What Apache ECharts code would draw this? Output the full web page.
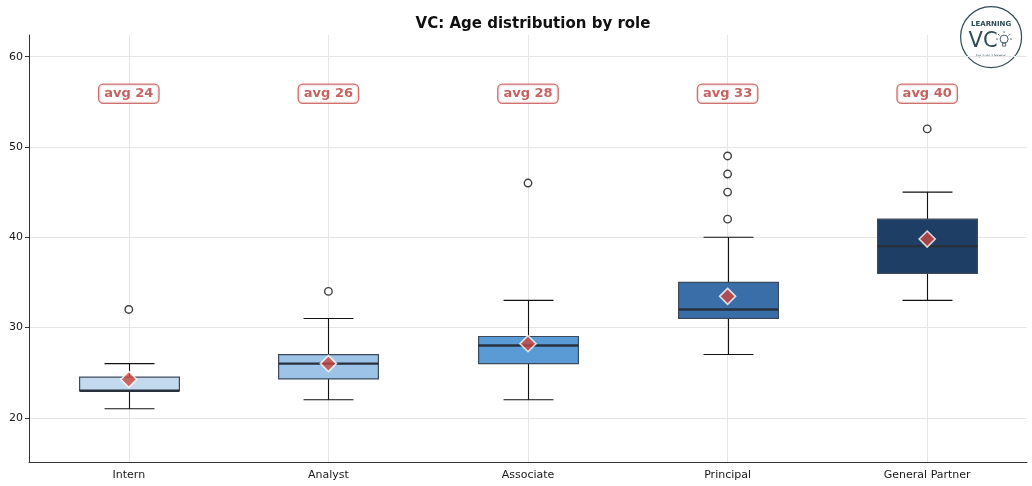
<!DOCTYPE html>
<html>
<head>
<meta charset="utf-8">
<style>
  html, body { margin: 0; padding: 0; background: #fff; }
  #chart { width: 1032px; height: 486px; }
</style>
<script src="https://cdn.jsdelivr.net/npm/echarts@6/dist/echarts.min.js"></script>
</head>
<body>
<div id="chart"></div>
<script>
(function () {
    'use strict';

    // data
    var roles = ['Intern', 'Analyst', 'Associate', 'Principal', 'General Partner'];
    var lows = [21, 22, 22, 27, 33];
    var q1s = [23, 24.3, 26, 31, 36];
    var medians = [23, 26, 28, 32, 39];
    var q3s = [24.5, 27, 29, 35, 42];
    var highs = [26, 31, 33, 40, 45];
    var means = [24.25, 26.0, 28.2, 33.45, 39.8];
    var outliers = [[32], [34], [46], [42, 45, 47, 49], [52]];
    var yTicks = [20, 30, 40, 50, 60];

    var boxColors = ['#c3d9ee', '#9dc3e6', '#5b9bd5', '#3a6ea8', '#1f3e66'];
    var labelY = 55.9;
    var font = 'DejaVu Sans';

    var boxData = roles.map(function (r, i) {
        return [i, lows[i], q1s[i], medians[i], q3s[i], highs[i]];
    });
    var outlierData = [];
    outliers.forEach(function (list, i) {
        list.forEach(function (v) { outlierData.push([i, v]); });
    });
    var meanData = means.map(function (m, i) { return [i, m]; });
    var labelData = means.map(function (m, i) { return [i, labelY, m]; });

    function crisp(v) { return Math.round(v) + 0.5; }

    function renderBox(params, api) {
        var x = api.value(0);
        var lo = api.coord([x, api.value(1)]);
        var q1 = api.coord([x, api.value(2)]);
        var md = api.coord([x, api.value(3)]);
        var q3 = api.coord([x, api.value(4)]);
        var hi = api.coord([x, api.value(5)]);
        var band = api.size([1, 0])[0];
        var bw = band * 0.5;
        var cw = band * 0.25;
        var cx = crisp(lo[0]);
        var whisker = {stroke: '#111', lineWidth: 1.1};
        return {
            type: 'group',
            children: [
                {type: 'line', shape: {x1: cx, y1: lo[1], x2: cx, y2: q1[1]}, style: whisker},
                {type: 'line', shape: {x1: cx, y1: q3[1], x2: cx, y2: hi[1]}, style: whisker},
                {type: 'line', shape: {x1: cx - cw / 2, y1: lo[1], x2: cx + cw / 2, y2: lo[1]}, style: whisker},
                {type: 'line', shape: {x1: cx - cw / 2, y1: hi[1], x2: cx + cw / 2, y2: hi[1]}, style: whisker},
                {
                    type: 'rect',
                    shape: {x: cx - bw / 2, y: q3[1], width: bw, height: q1[1] - q3[1]},
                    style: {fill: boxColors[params.dataIndex], stroke: '#3b4a5c', lineWidth: 1.2}
                },
                {
                    type: 'line',
                    shape: {x1: cx - bw / 2, y1: md[1], x2: cx + bw / 2, y2: md[1]},
                    style: {stroke: '#27313d', lineWidth: 2.4}
                }
            ]
        };
    }

    var chart = echarts.init(document.getElementById('chart'));

    var option = {
        backgroundColor: '#fff',
        animation: false,
        title: {
            text: 'VC: Age distribution by role',
            left: 528,
            top: 12,
            textAlign: 'center',
            textStyle: {fontFamily: font, fontSize: 15, fontWeight: 'bold', color: '#111'}
        },
        grid: {left: 29, right: 5, top: 35, bottom: 24, containLabel: false},
        xAxis: {
            type: 'category',
            data: roles,
            boundaryGap: true,
            axisLine: {lineStyle: {color: '#333', width: 1}},
            axisTick: {alignWithLabel: true, length: 4, lineStyle: {color: '#333'}},
            axisLabel: {fontFamily: font, fontSize: 11, color: '#1a1a1a', margin: 8},
            splitLine: {show: false}
        },
        yAxis: {
            type: 'value',
            min: 15.1,
            max: 62.4,
            interval: 10,
            axisLine: {show: true, lineStyle: {color: '#333', width: 1}},
            axisTick: {show: true, length: 4, lineStyle: {color: '#333'}, customValues: yTicks},
            axisLabel: {
                fontFamily: font, fontSize: 11, color: '#1a1a1a', margin: 6,
                customValues: yTicks
            },
            splitLine: {show: false}
        },
        series: [
            {
                // grid lines
                type: 'line',
                data: [],
                z: 0,
                markLine: {
                    silent: true,
                    z: 0,
                    symbol: 'none',
                    label: {show: false},
                    lineStyle: {color: '#e6e6e6', width: 1, type: 'solid'},
                    data: roles.map(function (r) { return {xAxis: r}; })
                        .concat(yTicks.map(function (t) { return {yAxis: t}; }))
                }
            },
            {
                type: 'custom',
                renderItem: renderBox,
                data: boxData,
                encode: {x: 0, y: [1, 2, 3, 4, 5]},
                z: 2
            },
            {
                type: 'scatter',
                data: outlierData,
                symbol: 'circle',
                symbolSize: 7.5,
                itemStyle: {color: '#fff', borderColor: '#111', borderWidth: 1.4},
                z: 3
            },
            {
                type: 'scatter',
                data: meanData,
                symbol: 'diamond',
                symbolSize: [16, 16],
                itemStyle: {color: '#c8473f', borderColor: '#fff', borderWidth: 1.6},
                z: 4
            },
            {
                type: 'scatter',
                data: labelData,
                symbolSize: 1,
                itemStyle: {color: 'rgba(0,0,0,0)'},
                label: {
                    show: true,
                    position: 'inside',
                    formatter: function (p) { return 'avg ' + Math.round(p.value[2]); },
                    fontFamily: font,
                    fontSize: 13,
                    fontWeight: 'bold',
                    color: '#b83c3a',
                    backgroundColor: '#fff',
                    borderColor: '#c24e4b',
                    borderWidth: 1.3,
                    borderRadius: 4,
                    padding: [3, 5, 2, 5]
                },
                z: 5
            }
        ],
        graphic: [
            {
                type: 'group',
                left: 960,
                top: 6,
                children: [
                    {type: 'circle', shape: {cx: 31, cy: 31, r: 30.5}, style: {fill: '#fff', stroke: '#2f4b55', lineWidth: 1.2}},
                    {type: 'text', x: 31, y: 18, style: {text: 'LEARNING', fontFamily: font, fontSize: 7, fontWeight: 'bold', fill: '#2f4b55', align: 'center', verticalAlign: 'middle'}},
                    {type: 'text', x: 23, y: 35, style: {text: 'VC', fontFamily: font, fontSize: 21, fill: '#2f4b55', align: 'center', verticalAlign: 'middle'}},
                    {type: 'circle', shape: {cx: 44, cy: 33, r: 4}, style: {fill: 'none', stroke: '#2f4b55', lineWidth: 0.9}},
                    {type: 'rect', shape: {x: 42.5, y: 37, width: 3, height: 3}, style: {fill: 'none', stroke: '#2f4b55', lineWidth: 0.8}},
                    {type: 'line', shape: {x1: 44, y1: 25, x2: 44, y2: 27}, style: {stroke: '#2f4b55', lineWidth: 0.8}},
                    {type: 'line', shape: {x1: 38, y1: 28, x2: 39.5, y2: 29.5}, style: {stroke: '#2f4b55', lineWidth: 0.8}},
                    {type: 'line', shape: {x1: 50, y1: 28, x2: 48.5, y2: 29.5}, style: {stroke: '#2f4b55', lineWidth: 0.8}},
                    {type: 'line', shape: {x1: 36, y1: 33, x2: 38, y2: 33}, style: {stroke: '#2f4b55', lineWidth: 0.8}},
                    {type: 'line', shape: {x1: 50, y1: 33, x2: 52, y2: 33}, style: {stroke: '#2f4b55', lineWidth: 0.8}},
                    {type: 'text', x: 31, y: 50, style: {text: 'by Luis Llorens', fontFamily: font, fontSize: 4, fill: '#2f4b55', align: 'center', verticalAlign: 'middle'}}
                ]
            }
        ]
    };

    chart.setOption(option);
})();
</script>
</body>
</html>
